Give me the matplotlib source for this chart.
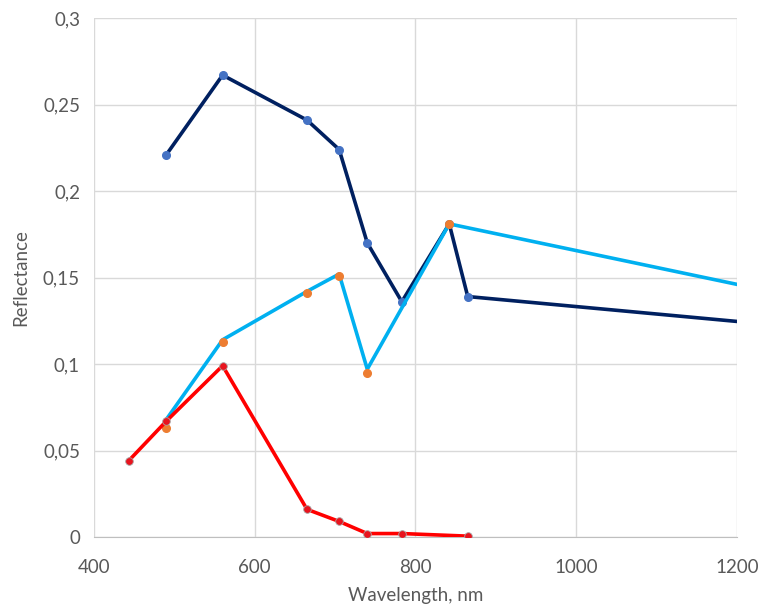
import matplotlib
matplotlib.use('Agg')
import matplotlib.pyplot as plt
from matplotlib.ticker import FuncFormatter, MultipleLocator

# Sentinel-2 band centres, nm
navy_x = [490, 560, 665, 705, 740, 783, 842, 865, 1610]
navy_y = [0.221, 0.267, 0.241, 0.224, 0.170, 0.136, 0.181, 0.139, 0.107]

cyan_x = [490, 560, 665, 705, 740, 842, 1610]
cyan_y = [0.068, 0.114, 0.142, 0.152, 0.097, 0.181, 0.106]

orange_x = [490, 560, 665, 705, 740, 842]
orange_y = [0.063, 0.113, 0.141, 0.151, 0.095, 0.181]

red_x = [443, 490, 560, 665, 705, 740, 783, 865]
red_y = [0.044, 0.067, 0.099, 0.016, 0.009, 0.002, 0.002, 0.0005]

plt.rcParams['font.family'] = ['Lato', 'DejaVu Sans']

fig = plt.figure(figsize=(7.6, 6.11), dpi=100)
ax = fig.add_axes([0.1237, 0.1211, 0.846, 0.8494])

ax.plot(navy_x, navy_y, color='#002060', lw=2.6, zorder=3,
        marker='o', ms=5.5, mfc='#4472C4', mec='#4472C4')
ax.plot(cyan_x, cyan_y, color='#00B0F0', lw=2.6, zorder=4)
ax.plot(orange_x, orange_y, ls='none', marker='o', ms=5.5,
        mfc='#ED7D31', mec='#ED7D31', zorder=5)
ax.plot(red_x, red_y, color='#FF0000', lw=2.6, zorder=6,
        marker='o', ms=5.5, mfc='#E8141E', mec='#A6A6A6', mew=0.6)

ax.set_xlim(400, 1200)
ax.set_ylim(0, 0.3)
ax.xaxis.set_major_locator(MultipleLocator(200))
ax.yaxis.set_major_locator(MultipleLocator(0.05))
ax.yaxis.set_major_formatter(FuncFormatter(lambda v, p: f'{round(v, 3):g}'.replace('.', ',')))

ax.grid(True, color='#D9D9D9', lw=1)
ax.set_axisbelow(True)
for s in ['top', 'right', 'left']:
    ax.spines[s].set_visible(False)
ax.spines['bottom'].set_color('#BFBFBF')
ax.tick_params(length=0, colors='#595959', labelsize=13.5)
ax.tick_params(axis='x', pad=16)
ax.tick_params(axis='y', pad=10)

ax.set_xlabel('Wavelength, nm', color='#595959', fontsize=13.5, labelpad=8)
ax.set_ylabel('Reflectance', color='#595959', fontsize=13.5, labelpad=10)

fig.savefig('out.png', dpi=100)
